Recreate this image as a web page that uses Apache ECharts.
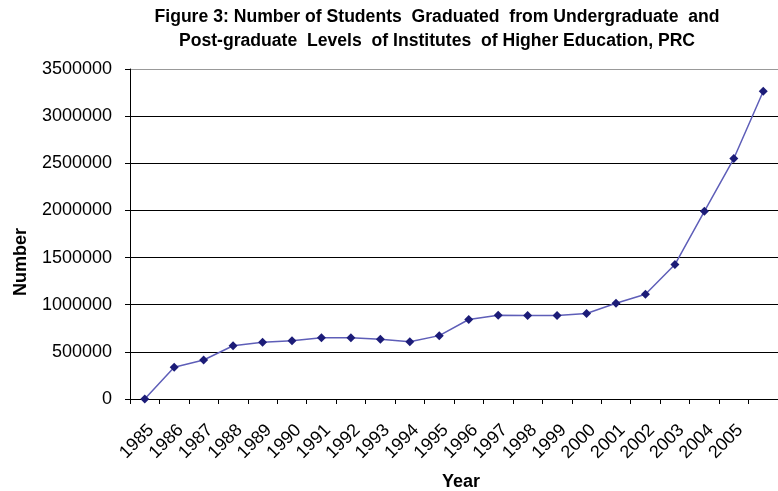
<!DOCTYPE html>
<html>
<head>
<meta charset="utf-8">
<title>Figure 3</title>
<script src="https://cdn.jsdelivr.net/npm/echarts@6/dist/echarts.min.js"></script>
<style>
    html, body { margin: 0; padding: 0; background: #fff; }
    #main { width: 778px; height: 491px; }
</style>
</head>
<body>
<div id="main"></div>
<script>
// x轴类目（最后一个点在原图没有标签）
var years = ['1985', '1986', '1987', '1988', '1989', '1990', '1991', '1992', '1993', '1994', '1995',
    '1996', '1997', '1998', '1999', '2000', '2001', '2002', '2003', '2004', '2005', ''];
// 毕业人数
var graduates = [0, 336000, 414000, 565000, 601000, 619000, 650000, 650000, 633000, 608000, 672000,
    843000, 889000, 885000, 885000, 907000, 1016000, 1111000, 1426000, 1991000, 2550000, 3264000];
var yTicks = [0, 500000, 1000000, 1500000, 2000000, 2500000, 3000000, 3500000];

var myChart = echarts.init(document.getElementById('main'));

var option = {
    backgroundColor: '#ffffff',
    animation: false,
    title: {
        text: 'Figure 3: Number of Students  Graduated  from Undergraduate  and\nPost-graduate  Levels  of Institutes  of Higher Education, PRC',
        left: 432,
        top: 0,
        textAlign: 'center',
        textStyle: {
            fontFamily: '"Liberation Sans Narrow", Arial, sans-serif',
            fontWeight: 'bold',
            fontSize: 17.6,
            lineHeight: 24,
            color: '#000'
        }
    },
    grid: {
        left: 130,
        top: 69,
        width: 660,
        height: 330
    },
    xAxis: {
        type: 'category',
        data: years,
        boundaryGap: true,
        axisLine: {lineStyle: {color: '#000', width: 1}},
        axisTick: {show: true, interval: 0, length: 5, lineStyle: {color: '#000'}},
        axisLabel: {
            interval: 0,
            rotate: 45,
            margin: 22,
            verticalAlign: 'top',
            fontFamily: 'Arial, "Liberation Sans", sans-serif',
            fontSize: 18,
            color: '#000'
        }
    },
    yAxis: {
        type: 'value',
        min: yTicks[0],
        max: yTicks[yTicks.length - 1],
        interval: 500000,
        axisLine: {show: true, lineStyle: {color: '#000', width: 1}},
        axisTick: {show: true, length: 5, lineStyle: {color: '#000'}},
        axisLabel: {
            margin: 18,
            formatter: function (v) { return String(v); },
            fontFamily: 'Arial, "Liberation Sans", sans-serif',
            fontSize: 18,
            color: '#000'
        },
        splitLine: {
            show: true,
            lineStyle: {
                color: ['#000', '#000', '#000', '#000', '#000', '#000', '#000', '#999'],
                width: 1
            }
        }
    },
    graphic: [
        {
            type: 'text',
            left: 12,
            top: 228,
            rotation: Math.PI / 2,
            style: {
                text: 'Number',
                fontFamily: 'Arial, "Liberation Sans", sans-serif',
                fontWeight: 'bold',
                fontSize: 18,
                fill: '#000'
            }
        },
        {
            type: 'text',
            left: 442,
            top: 473,
            style: {
                text: 'Year',
                fontFamily: 'Arial, "Liberation Sans", sans-serif',
                fontWeight: 'bold',
                fontSize: 18,
                fill: '#000'
            }
        }
    ],
    series: [{
        name: 'Number',
        type: 'line',
        data: graduates,
        symbol: 'diamond',
        symbolSize: 9,
        showAllSymbol: true,
        itemStyle: {color: '#1c1c78'},
        lineStyle: {color: '#5e5eb8', width: 1.5}
    }]
};

myChart.setOption(option);
</script>
</body>
</html>
